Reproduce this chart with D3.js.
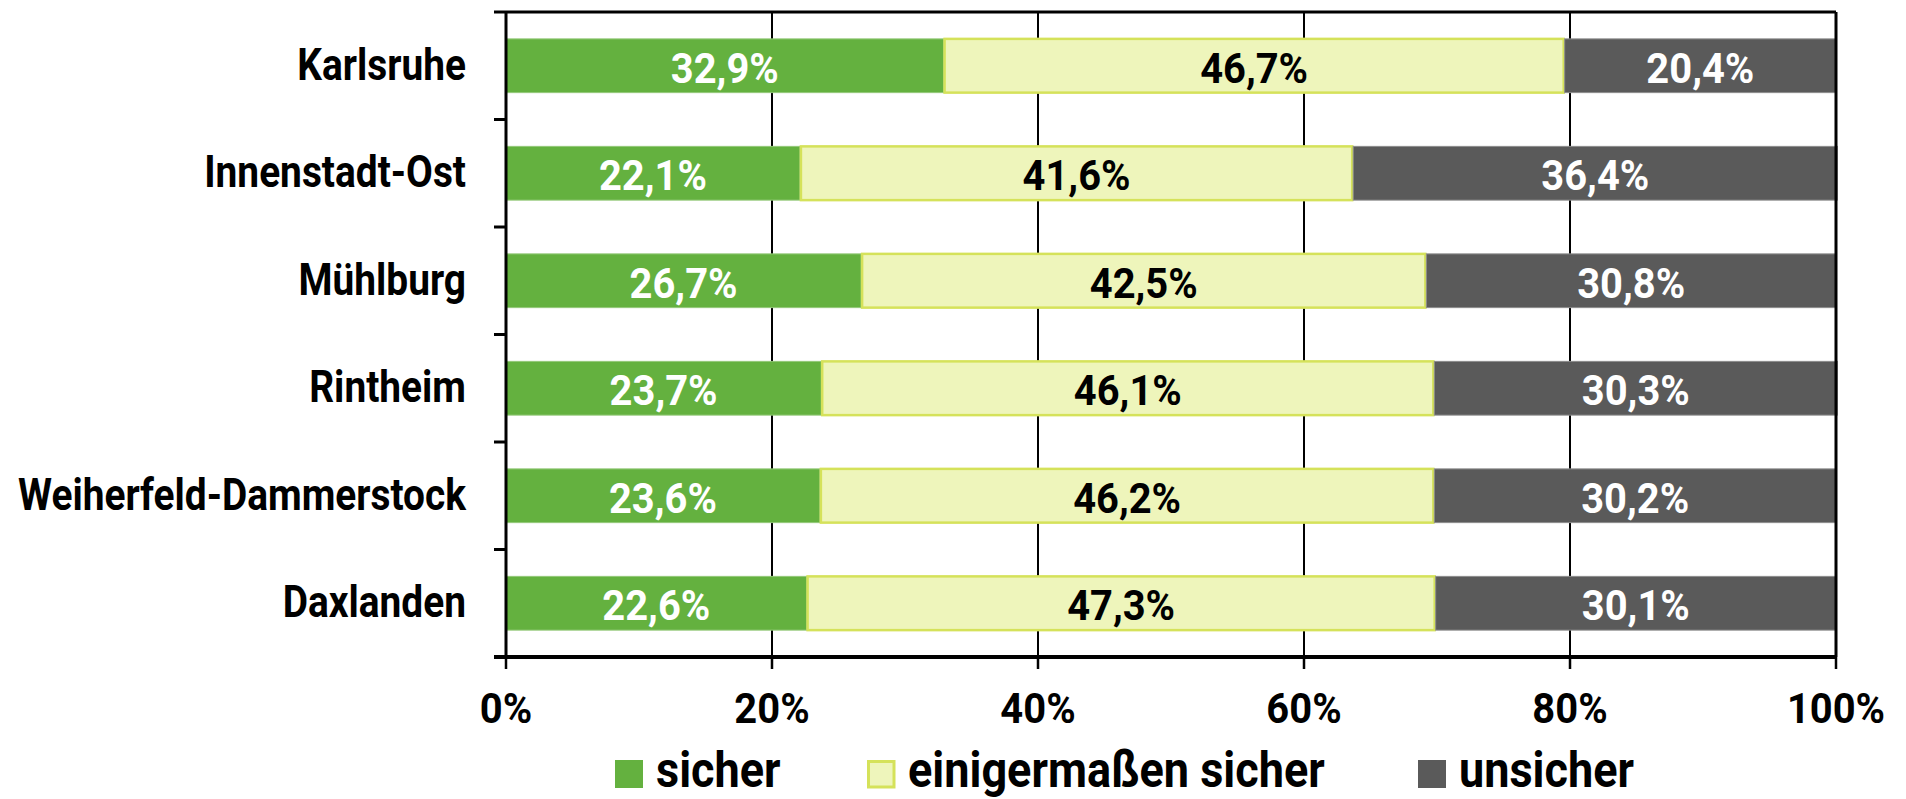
<!DOCTYPE html>
<html>
<head>
<meta charset="utf-8">
<script src="https://cdn.jsdelivr.net/npm/d3@7"></script>
<style>
  html, body { margin: 0; padding: 0; background: #fff; }
  svg text { font-family: Roboto, "Liberation Sans", sans-serif; font-weight: bold; }
</style>
</head>
<body>
<svg width="1906" height="799"></svg>
<script>
'use strict'

const districts = ['Karlsruhe', 'Innenstadt-Ost', 'Mühlburg', 'Rintheim', 'Weiherfeld-Dammerstock', 'Daxlanden']
const sicher = [32.9, 22.1, 26.7, 23.7, 23.6, 22.6]
const einigermassen = [46.7, 41.6, 42.5, 46.1, 46.2, 47.3]
const unsicher = [20.4, 36.4, 30.8, 30.3, 30.2, 30.1]
const seriesNames = ['sicher', 'einigermaßen sicher', 'unsicher']
const xTicks = [0, 20, 40, 60, 80, 100]

const fills = ['#64b13f', '#eef5bb', '#5a5a5a']
const strokes = ['#93c978', '#d5e25a', '#8c8c8c']
const labelColors = ['#fff', '#000', '#fff']

const svg = d3.select('svg')
const plotLeft = 506
const plotRight = 1836
const plotTop = 12
const plotBottom = 657

// the original uses a condensed face; squeeze a normal one to the same width
const probe = svg.append('text').attr('font-size', 44).text('Weiherfeld-Dammerstock')
const sx = 448 / probe.node().getComputedTextLength()
probe.remove()
const numSx = 0.95

function squeeze(sel, f) {
    sel.each(function () {
        const t = d3.select(this)
        const tx = +t.attr('x')
        const ty = +t.attr('y')
        t.attr('x', 0).attr('y', 0).attr('transform', `translate(${tx},${ty}) scale(${f},1)`)
    })
}

const x = d3.scaleLinear().domain([0, 100]).range([plotLeft, plotRight])
const y = d3.scaleBand().domain(districts).range([plotTop, plotBottom]).paddingInner(0.5).paddingOuter(0.25)

const rows = districts.map((name, i) => ({ name, sicher: sicher[i], einig: einigermassen[i], unsicher: unsicher[i] }))
const stack = d3.stack().keys(['sicher', 'einig', 'unsicher'])(rows)

// gridlines
svg.append('g')
    .selectAll('line')
    .data(xTicks.slice(1, -1))
    .enter()
    .append('line')
    .attr('x1', d => x(d))
    .attr('x2', d => x(d))
    .attr('y1', plotTop)
    .attr('y2', plotBottom)
    .attr('stroke', '#000')
    .attr('stroke-width', 2)

// bars
const layer = svg.append('g')
    .selectAll('g')
    .data(stack)
    .enter()
    .append('g')

layer.selectAll('rect')
    .data((d, k) => d.map(p => ({ p, k })))
    .enter()
    .append('rect')
    .attr('x', d => x(d.p[0]) + (d.k === 1 ? 1 : 0))
    .attr('y', d => y(d.p.data.name))
    .attr('width', d => x(d.p[1]) - x(d.p[0]) - (d.k === 1 ? 2 : 0))
    .attr('height', y.bandwidth())
    .attr('fill', d => fills[d.k])
    .attr('stroke', d => strokes[d.k])
    .attr('stroke-width', d => d.k === 1 ? 2.5 : 1)

layer.selectAll('text')
    .data((d, k) => d.map(p => ({ p, k })))
    .enter()
    .append('text')
    .attr('x', d => (x(d.p[0]) + x(d.p[1])) / 2)
    .attr('y', d => y(d.p.data.name) + y.bandwidth() / 2 + 17)
    .attr('text-anchor', 'middle')
    .attr('font-size', 42)
    .attr('fill', d => labelColors[d.k])
    .text(d => (d.p[1] - d.p[0]).toFixed(1).replace('.', ',') + '%')
    .call(squeeze, numSx)

// frame: top and right
svg.append('line')
    .attr('x1', plotLeft).attr('x2', plotRight).attr('y1', plotTop).attr('y2', plotTop)
    .attr('stroke', '#000').attr('stroke-width', 3)
svg.append('line')
    .attr('x1', plotRight).attr('x2', plotRight).attr('y1', plotTop).attr('y2', plotBottom)
    .attr('stroke', '#000').attr('stroke-width', 3)

// y axis with ticks at band boundaries
const bounds = d3.range(districts.length + 1).map(i => plotTop + i * (plotBottom - plotTop) / districts.length)
svg.append('line')
    .attr('x1', plotLeft).attr('x2', plotLeft).attr('y1', plotTop).attr('y2', plotBottom)
    .attr('stroke', '#000').attr('stroke-width', 3)
svg.append('g')
    .selectAll('line')
    .data(bounds)
    .enter()
    .append('line')
    .attr('x1', plotLeft - 12).attr('x2', plotLeft)
    .attr('y1', d => d).attr('y2', d => d)
    .attr('stroke', '#000').attr('stroke-width', 3)

svg.append('g')
    .selectAll('text')
    .data(districts)
    .enter()
    .append('text')
    .attr('x', 466)
    .attr('y', d => y(d) + y.bandwidth() / 2 + 14)
    .attr('text-anchor', 'end')
    .attr('font-size', 44)
    .text(d => d)
    .call(squeeze, sx)

// x axis
svg.append('line')
    .attr('x1', plotLeft - 12).attr('x2', plotRight).attr('y1', plotBottom).attr('y2', plotBottom)
    .attr('stroke', '#000').attr('stroke-width', 4)
const xt = svg.append('g')
    .selectAll('g')
    .data(xTicks)
    .enter()
    .append('g')
xt.append('line')
    .attr('x1', d => x(d)).attr('x2', d => x(d))
    .attr('y1', plotBottom).attr('y2', plotBottom + 12)
    .attr('stroke', '#000').attr('stroke-width', 2.5)
xt.append('text')
    .attr('x', d => x(d))
    .attr('y', 723)
    .attr('text-anchor', 'middle')
    .attr('font-size', 42)
    .text(d => d + '%')
    .call(squeeze, numSx)

// legend
const legendX = [615, 867, 1418]
const leg = svg.append('g')
    .selectAll('g')
    .data(seriesNames)
    .enter()
    .append('g')
    .attr('transform', (d, i) => `translate(${legendX[i]},760)`)
leg.append('rect')
    .attr('x', (d, i) => i === 1 ? 1.5 : 0)
    .attr('y', (d, i) => i === 1 ? 1.5 : 0)
    .attr('width', (d, i) => i === 1 ? 25.5 : 28)
    .attr('height', (d, i) => i === 1 ? 25.5 : 28)
    .attr('fill', (d, i) => fills[i])
    .attr('stroke', (d, i) => i === 1 ? strokes[1] : 'none')
    .attr('stroke-width', 3)
leg.append('text')
    .attr('x', 41)
    .attr('y', 27)
    .attr('font-size', 50)
    .text(d => d)
    .call(squeeze, sx * 1.02)
</script>
</body>
</html>
